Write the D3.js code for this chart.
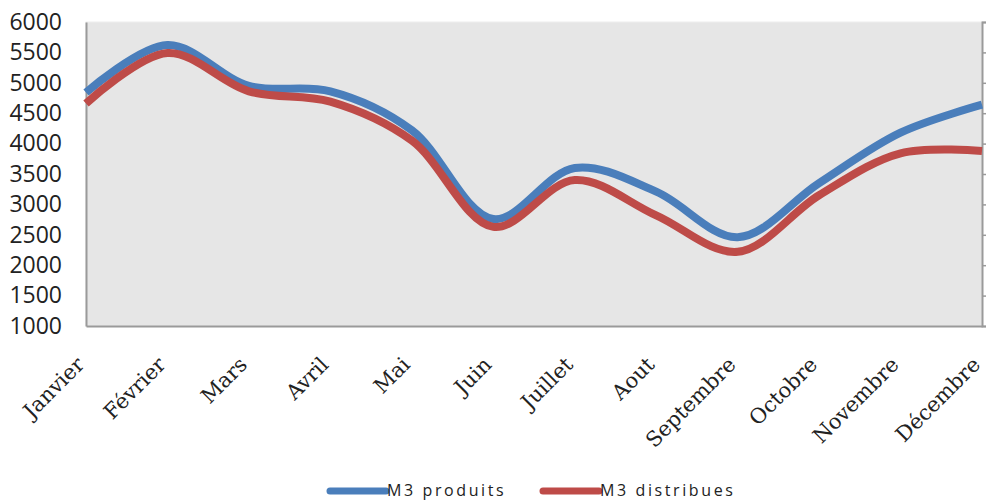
<!DOCTYPE html>
<html>
<head>
<meta charset="utf-8">
<script src="https://cdn.jsdelivr.net/npm/d3@7"></script>
<style>
	body { margin: 0; background: #fff; }
	svg { display: block; }
</style>
</head>
<body>
<div id="chart"></div>
<script>

// months (x categories)
var months = ["Janvier","Février","Mars","Avril","Mai","Juin","Juillet","Aout","Septembre","Octobre","Novembre","Décembre"];

// series values
var produits   = [4840, 5620, 4950, 4860, 4220, 2760, 3600, 3210, 2460, 3350, 4180, 4640];
var distribues = [4660, 5490, 4860, 4690, 4050, 2630, 3400, 2820, 2220, 3150, 3840, 3880];

// y ticks
var yTicks = [1000, 1500, 2000, 2500, 3000, 3500, 4000, 4500, 5000, 5500, 6000];

var series = [
	{ name: "M3 produits", values: produits, color: "#4a7ebb" },
	{ name: "M3 distribues", values: distribues, color: "#be4b48" }
];

var width = 986, height = 502;
var margin = { top: 22, left: 86, right: 4, bottom: 176 };
var plotW = width - margin.left - margin.right;
var plotH = height - margin.top - margin.bottom;

var svg = d3.select("#chart").append("svg")
	.attr("width", width)
	.attr("height", height);

var x = d3.scalePoint()
	.domain(months)
	.range([margin.left, margin.left + plotW]);

var y = d3.scaleLinear()
	.domain([1000, 6000])
	.range([margin.top + plotH, margin.top]);

// plot background
svg.append("rect")
	.attr("x", margin.left)
	.attr("y", margin.top)
	.attr("width", plotW)
	.attr("height", plotH)
	.attr("fill", "#e6e6e6")
	.attr("stroke", "#ededed");

// left axis: labels only + line
var yAxis = svg.append("g")
	.attr("transform", "translate(" + margin.left + ",0)")
	.call(d3.axisLeft(y).tickValues(yTicks).tickSize(0).tickPadding(24).tickFormat(d3.format("d")));
yAxis.select(".domain").attr("stroke", "#9a9a9a").attr("stroke-width", 2);
yAxis.selectAll("text")
	.attr("font-family", "'Open Sans', sans-serif")
	.attr("font-size", "23px")
	.attr("fill", "#222");

// right axis: ticks only
var yAxisR = svg.append("g")
	.attr("transform", "translate(" + (margin.left + plotW) + ",0)")
	.call(d3.axisRight(y).tickValues(yTicks).tickSize(4).tickFormat(""));
yAxisR.select(".domain").attr("stroke", "#9a9a9a").attr("stroke-width", 2);
yAxisR.selectAll(".tick line").attr("stroke", "#9a9a9a").attr("stroke-width", 1.5);

// bottom axis line
var xAxis = svg.append("g")
	.attr("transform", "translate(0," + (margin.top + plotH) + ")")
	.call(d3.axisBottom(x).tickSize(0).tickPadding(0));
xAxis.select(".domain").attr("stroke", "#9a9a9a").attr("stroke-width", 2);
xAxis.selectAll("text")
	.attr("font-family", "'DejaVu Serif', serif")
	.attr("font-size", "21px")
	.attr("fill", "#222")
	.attr("text-anchor", "end")
	.attr("dy", "0")
	.attr("transform", "translate(-1,40) rotate(-45)");

// lines
var line = d3.line()
	.x(function(d, i) { return x(months[i]); })
	.y(function(d) { return y(d); })
	.curve(d3.curveCatmullRom.alpha(0.5));

svg.append("g")
	.selectAll("path")
	.data(series)
	.enter()
	.append("path")
	.attr("d", function(d) { return line(d.values); })
	.attr("fill", "none")
	.attr("stroke", function(d) { return d.color; })
	.attr("stroke-width", 8)
	.attr("stroke-linejoin", "round")
	.attr("stroke-linecap", "butt");

// legend
var legendX = [330, 543];
var legend = svg.append("g")
	.selectAll("g")
	.data(series)
	.enter()
	.append("g")
	.attr("transform", function(d, i) { return "translate(" + legendX[i] + ",491)"; });

legend.append("line")
	.attr("x1", 0).attr("x2", 56)
	.attr("y1", 0).attr("y2", 0)
	.attr("stroke", function(d) { return d.color; })
	.attr("stroke-width", 7)
	.attr("stroke-linecap", "round");

legend.append("text")
	.attr("x", 57)
	.attr("y", 0)
	.attr("dy", "0.33em")
	.attr("font-family", "'Open Sans', sans-serif")
	.attr("font-size", "16px")
	.attr("letter-spacing", "2.6px")
	.attr("fill", "#222")
	.text(function(d) { return d.name; });

</script>
</body>
</html>
